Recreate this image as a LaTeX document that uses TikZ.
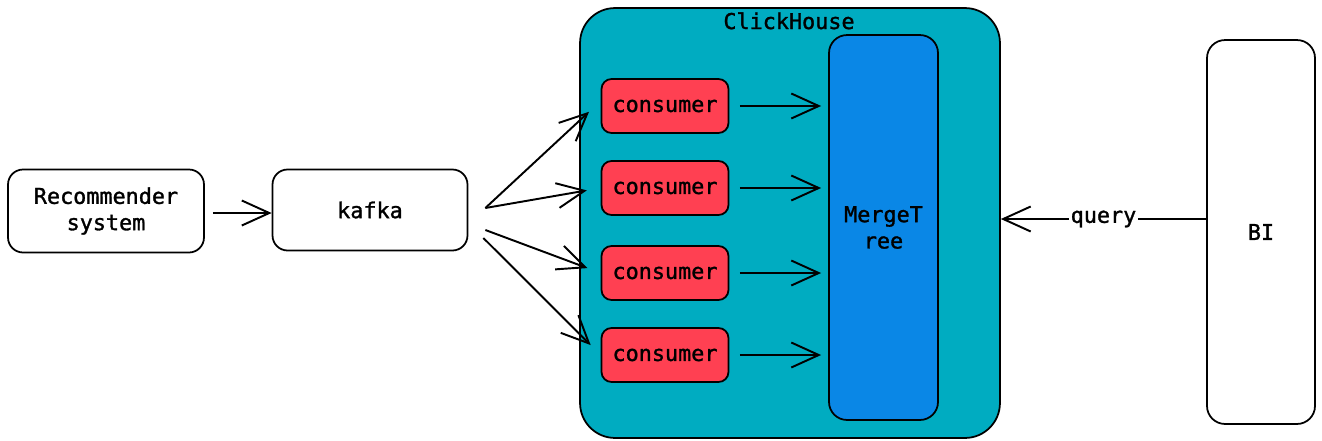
\documentclass[tikz,border=0pt]{standalone}
\usepackage{fontspec}
\setmonofont[FakeBold=1.3]{DejaVu Sans Mono}
\usetikzlibrary{arrows.meta}
\definecolor{chteal}{RGB}{0,172,193}
\definecolor{consred}{RGB}{255,64,82}
\definecolor{treeblue}{RGB}{10,135,230}
\begin{document}
\begin{tikzpicture}[x=0.02cm, y=-0.02cm,
  every node/.style = {font=\ttfamily\fontsize{12.4}{15}\selectfont, align=center},
  box/.style = {shape=rectangle, draw, line width=1pt,
    rounded corners=0.3cm, fill=white},
  consumerbox/.style = {box, fill=consred, minimum width=2.54cm,
    minimum height=1.08cm, rounded corners=0.2cm},
  arr/.style = {line width=1.1pt, -{Straight Barb[length=0.55cm,width=0.5cm]}}]
  \useasboundingbox (0,0) rectangle (1322,440);

  \node[box, fill=chteal, minimum width=8.4cm, minimum height=8.6cm,
    rounded corners=0.7cm] (clickhouse) at (790,223) {};
  \node[anchor=north, inner sep=0pt] (chlabel) at (789,12) {ClickHouse};

  \node[box, minimum width=3.92cm, minimum height=1.66cm] (rec) at (106,211) {Recommender\\system};
  \node[box, minimum width=3.9cm, minimum height=1.62cm] (kafka) at (370,210) {kafka};

  \node[consumerbox] (c1) at (665,106) {consumer};
  \node[consumerbox] (c2) at (665,188) {consumer};
  \node[consumerbox] (c3) at (665,273) {consumer};
  \node[consumerbox] (c4) at (665,355) {consumer};

  \node[box, fill=treeblue, minimum width=2.18cm, minimum height=7.7cm,
    rounded corners=0.36cm] (tree) at (883.5,227.5) {MergeT\\ree};
  \node[box, minimum width=2.16cm, minimum height=7.68cm,
    rounded corners=0.36cm] (bi) at (1261,232) {BI};

  \draw[arr] (rec.east) ++(8,2) -- (kafka.west |- 0,213);
  \draw[arr, shorten >=9pt] ([shift={(17,-2)}]kafka.east) -- ([yshift=0.1cm]c1.west);
  \draw[arr, shorten >=8pt] ([shift={(17,-2)}]kafka.east) -- (c2.west);
  \draw[arr, shorten >=8pt] ([shift={(17,20)}]kafka.east) -- (c3.west);
  \draw[arr, shorten >=8pt] ([shift={(15,28)}]kafka.east) -- (c4.west);
  \foreach \c in {c1,c2,c3,c4}
    \draw[arr, shorten >=4pt] ([xshift=6]\c.east) -- (tree.west |- \c.east);
  \draw[arr] ([yshift=0.26cm]bi.west) -- node[fill=white, inner sep=1pt] (qlabel) {query} (clickhouse.east |- 0,219);
\end{tikzpicture}
\end{document}
